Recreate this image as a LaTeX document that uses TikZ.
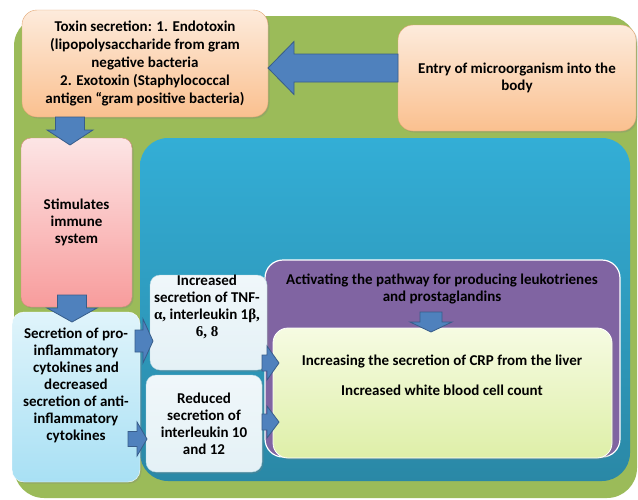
\documentclass[tikz,border=0pt]{standalone}
\usepackage{fontspec}
\setmainfont{Carlito}
\newfontfamily\grk{Liberation Serif}
\usetikzlibrary{calc,shadows}

\definecolor{bodygreen}{HTML}{9BBB59}
\definecolor{innertop}{HTML}{33AED6}
\definecolor{innerbot}{HTML}{2A88A6}
\definecolor{peachtop}{HTML}{FDEBDC}
\definecolor{peachbot}{HTML}{FAC08F}
\definecolor{peachline}{HTML}{E3A672}
\definecolor{pinktop}{HTML}{FCE5E5}
\definecolor{pinkbot}{HTML}{F89C9C}
\definecolor{pinkline}{HTML}{D98C7C}
\definecolor{cyantop}{HTML}{E0F4FB}
\definecolor{cyanbot}{HTML}{A8E0F4}
\definecolor{paletop}{HTML}{F0F7FA}
\definecolor{palebot}{HTML}{E4F1F6}
\definecolor{paleline}{HTML}{B5D7E2}
\definecolor{pathpurple}{HTML}{8064A2}
\definecolor{limetop}{HTML}{F6FBE2}
\definecolor{limebot}{HTML}{DEEFA8}
\definecolor{arrowblue}{HTML}{4F81BD}
\definecolor{arrowline}{HTML}{385D8A}

\tikzset{
  boxtext/.style={align=center,font=\bfseries\fontsize{15}{17}\selectfont,text=black,inner sep=0pt},
  box/.style={boxtext,inner sep=0pt,outer sep=0pt,rounded corners=12pt,
    drop shadow={opacity=.3,shadow xshift=1.5pt,shadow yshift=-1.5pt}},
  orangebox/.style={box,draw=peachline,top color=peachtop,bottom color=peachbot,rounded corners=15pt},
  pinkbox/.style={box,draw=pinkline,top color=pinktop,bottom color=pinkbot,rounded corners=10pt},
  cyanbox/.style={box,draw=white,top color=cyantop,bottom color=cyanbot},
  palebox/.style={box,draw=paleline,top color=paletop,bottom color=palebot,rounded corners=10pt},
  limebox/.style={box,draw=white,line width=.8pt,top color=limetop,bottom color=limebot,rounded corners=15pt},
  blockarrow/.style={draw=arrowline,fill=arrowblue,line width=.8pt,line join=miter},
}

\newcommand{\bigarrow}[5]{%
  \draw[blockarrow] let \p1=#1, \p2=#2, \n1={atan2(\y2-\y1,\x2-\x1)}, \n2={veclen(\x2-\x1,\y2-\y1)} in
    [shift={(\p1)},rotate=\n1] (0pt,#3pt) -- (\n2*1pt-#5pt,#3pt) -- (\n2*1pt-#5pt,#4pt) -- (\n2*1pt,0pt)
    -- (\n2*1pt-#5pt,-#4pt) -- (\n2*1pt-#5pt,-#3pt) -- (0pt,-#3pt) -- cycle;}

\begin{document}
\begin{tikzpicture}[x=1pt,y=-1pt]
        \useasboundingbox[fill=white] (0,0) rectangle (638,499);

        \node (body) at (325.5,257) [fill=bodygreen,rounded corners=30pt,inner sep=0pt,minimum width=623pt,minimum height=482pt]{};
        \node (inner) at (385,309.5) [top color=innertop,middle color=innertop,bottom color=innerbot,rounded corners=28pt,inner sep=0pt,minimum width=490pt,minimum height=343pt]{};

        \node (toxin) at (145,63.5) [orangebox,minimum width=246pt,minimum height=107pt,font=\bfseries\fontsize{15}{18}\selectfont]{Toxin secretion: 1. Endotoxin\\(lipopolysaccharide from gram\\negative bacteria\\2. Exotoxin (Staphylococcal\\antigen “gram positive bacteria)};
        \node (entry) at (517,78) [orangebox,minimum width=238pt,minimum height=106pt]{Entry of microorganism into the\\body};
        \node (immune) at (76.5,222.5) [pinkbox,minimum width=111pt,minimum height=169pt]{Stimulates\\immune\\system};

        \node (secr) at (76,397) [cyanbox,minimum width=128pt,minimum height=170pt]{};
        \node (secrtext) at (76,385.5) [boxtext]{Secretion of pro-\\inflammatory\\cytokines and\\decreased\\secretion of anti-\\inflammatory\\cytokines};

        \node (pathway) at (442.5,358.5) [draw=white,line width=1.2pt,fill=pathpurple,rounded corners=18pt,inner sep=0pt,minimum width=355pt,minimum height=197pt]{};
        \node (pathtext) at (442,288.5) [boxtext]{Activating the pathway for producing leukotrienes\\and prostaglandins};

        \node (tnf) at (208.5,322.5) [palebox,minimum width=117pt,minimum height=95pt]{};
        \node (tnftext) at (207,307) [boxtext]{Increased\\secretion of TNF-\\{\grk α,} interleukin 1{\grk β,}\\{\grk 6, 8}};
        \node (reduced) at (204,423.5) [palebox,minimum width=116pt,minimum height=97pt]{Reduced\\secretion of\\interleukin 10\\and 12};

        \node (result) at (442.5,393) [limebox,minimum width=339pt,minimum height=130pt]{};
        \node (resulttext) at (442,375) [boxtext]{Increasing the secretion of CRP from the liver\\[13pt]Increased white blood cell count};

        \bigarrow{(entry.west |- 0,68)}{(toxin.east |- 0,68)}{14}{26.5}{26}
        \bigarrow{(toxin.south -| 70,0)}{($(immune.north -| 70,0)+(0,7)$)}{14.5}{23}{15}
        \bigarrow{($(immune.south -| 72,0)+(0,-12)$)}{($(secr.north -| 72,0)+(0,10)$)}{14.5}{25}{14}
        \bigarrow{($(secr.east |- 0,341)+(-5,0)$)}{($(tnf.west |- 0,341)+(3,0)$)}{11}{22}{10}
        \bigarrow{($(secr.east |- 0,439)+(-12,0)$)}{($(reduced.west |- 0,439)+(1,0)$)}{7.5}{17}{10}
        \bigarrow{($(tnf.east |- 0,363)+(-5,0)$)}{($(result.west |- 0,363)+(6,0)$)}{8}{17}{12}
        \bigarrow{(reduced.east |- 0,422)}{($(result.west |- 0,422)+(6,0)$)}{8}{16}{12}
        \bigarrow{($(result.north -| 431,0)+(0,-16)$)}{($(result.north -| 431,0)+(0,4)$)}{11}{21}{10}

    \end{tikzpicture}
\end{document}
